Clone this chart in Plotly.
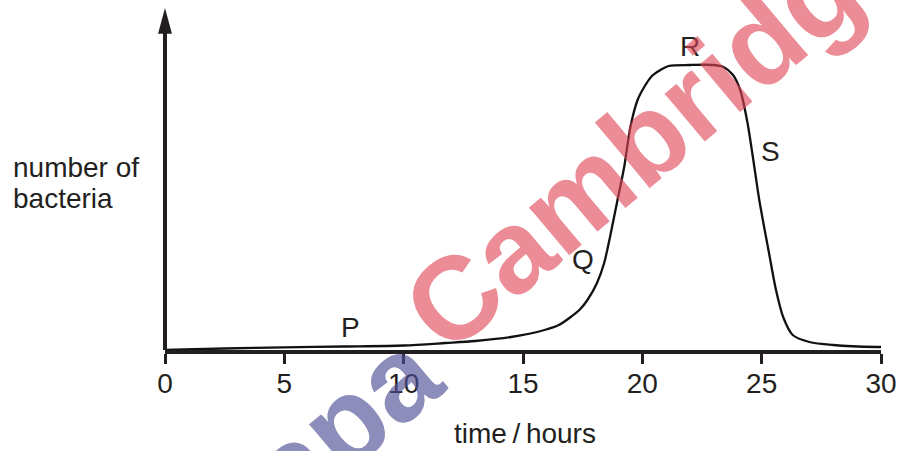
import plotly.graph_objects as go

# time (hours) and number of bacteria (arbitrary units)
time_h = [0, 2.5, 5, 7.5, 10, 11.75, 13, 14.5, 15.9, 16.5, 17.0, 17.4, 17.7, 18.1, 18.4,
          18.68, 18.96, 19.24, 19.5, 19.8, 20.08, 20.4, 20.76, 21.1, 22.0, 23.0, 23.4,
          23.8, 24.1, 24.4, 24.65, 24.9, 25.3, 25.6, 25.9, 26.3, 27.0, 28.0, 29.8, 30]
bacteria = [0, 1.5, 2.7, 3.5, 4.5, 7, 9, 13, 20, 25, 33, 41, 50, 67, 87,
            117, 150, 183, 223, 250, 263, 274, 280, 284, 285, 285, 283,
            275, 260, 228, 190, 150, 98, 60, 33, 15, 8, 5, 3, 3]

x_ticks = [0, 5, 10, 15, 20, 25, 30]
point_labels = ["P", "Q", "R", "S"]
label_x = [7.79, 17.5, 22.0, 25.37]
label_y = [23, 91, 304, 199]

INK = "#231f20"
FONT = "Liberation Sans, Arial, sans-serif"
FS = 28

fig = go.Figure()
fig.add_trace(go.Scatter(x=time_h, y=bacteria, mode="lines",
                         line=dict(color="#111111", width=2.3, shape="spline", smoothing=0.8),
                         hoverinfo="skip", showlegend=False))

fig.update_layout(
    width=905, height=451,
    margin=dict(l=165, r=20, t=8, b=101),
    paper_bgcolor="white", plot_bgcolor="white",
    font=dict(family=FONT, size=FS, color=INK),
    xaxis=dict(range=[0, 30], tickvals=x_ticks, ticktext=[str(v) for v in x_ticks],
               showgrid=False, zeroline=False, showline=True, linewidth=4, linecolor=INK,
               ticks="outside", ticklen=10, tickwidth=3, tickcolor=INK,
               ticklabelstandoff=-5,
               tickfont=dict(size=FS, color=INK, family=FONT)),
    yaxis=dict(range=[0, 342], showgrid=False, zeroline=False, showline=False,
               showticklabels=False, ticks=""),
)

# y axis line with arrow head
fig.add_shape(type="line", xref="paper", yref="paper", x0=0, x1=0, y0=0, y1=0.935,
              line=dict(color=INK, width=4))
fig.add_shape(type="path", xref="paper", yref="paper",
              path="M -0.0097,0.925 L 0.0097,0.925 L 0,1.0 Z",
              fillcolor=INK, line=dict(color=INK, width=0))

# axis titles
fig.add_annotation(xref="paper", yref="paper", x=(527 - 165) / 720, y=(350 - 433) / 342,
                   text="time\u2009/\u2009hours",
                   showarrow=False, xanchor="center", yanchor="middle",
                   font=dict(size=FS, color=INK, family=FONT))
fig.add_annotation(xref="paper", yref="paper", x=(10 - 165) / 720, y=(350 - 167) / 342,
                   text="number of", showarrow=False, align="left",
                   xanchor="left", yanchor="middle",
                   font=dict(size=FS, color=INK, family=FONT))
fig.add_annotation(xref="paper", yref="paper", x=(10 - 165) / 720, y=(350 - 198) / 342,
                   text="bacteria", showarrow=False, align="left",
                   xanchor="left", yanchor="middle",
                   font=dict(size=FS, color=INK, family=FONT))

# point labels
for t, lx, ly in zip(point_labels, label_x, label_y):
    fig.add_annotation(x=lx, y=ly, text=t, showarrow=False,
                       font=dict(size=FS, color=INK, family=FONT))

# watermark
fig.add_annotation(xref="paper", yref="paper", x=(660 - 165) / 720, y=(350 - 128) / 342,
                   text="<b>Cambridge</b>", showarrow=False, textangle=-40,
                   xanchor="center", yanchor="middle",
                   font=dict(size=118, family=FONT, color="rgba(222,70,85,0.62)"))
fig.add_annotation(xref="paper", yref="paper", x=(315 - 165) / 720, y=(350 - 448) / 342,
                   text="<b>Papa</b>", showarrow=False, textangle=-40,
                   xanchor="center", yanchor="middle",
                   font=dict(size=118, family=FONT, color="rgba(80,80,150,0.65)"))

fig.write_html("out.html", post_script="document.body.style.margin='0';",
               config={"displayModeBar": False})
